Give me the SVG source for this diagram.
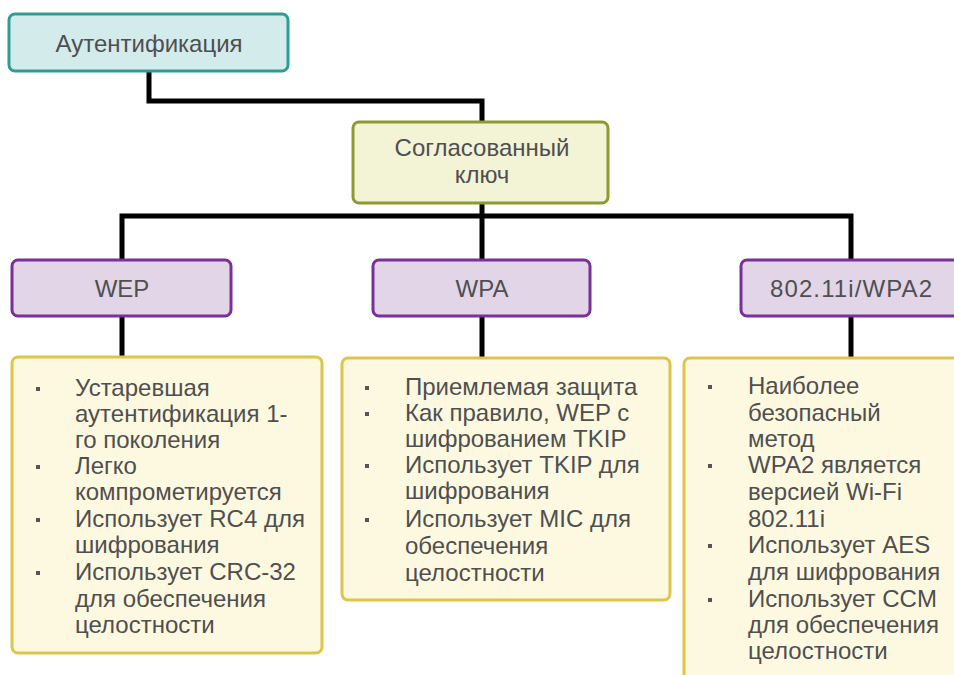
<svg xmlns="http://www.w3.org/2000/svg" width="954" height="675" viewBox="0 0 954 675">
<style>
text{font-family:"Liberation Sans",Arial,sans-serif;fill:#4f4f4f;font-size:24px}
.c{text-anchor:middle}
.teal{fill:#d3ebea;stroke:#2e9d93;stroke-width:3}
.olive{fill:#f3f3d6;stroke:#8c9a2e;stroke-width:3}
.purp{fill:#e2d5e8;stroke:#7a3094;stroke-width:3}
.yel{fill:#fdf9e0;stroke:#dcc54a;stroke-width:3}
.ln{fill:none;stroke:#000;stroke-width:5}
.b{fill:#555}
</style>
<rect width="954" height="675" fill="#fff"/>
<g id="connectors">
<path class="ln" d="M149 71V101H482V122"/>
<path class="ln" d="M482 203V216"/>
<path class="ln" d="M122 260V216H851V260"/>
<path class="ln" d="M482 216V260"/>
<path class="ln" d="M122 316V358"/>
<path class="ln" d="M482 316V358"/>
<path class="ln" d="M851 316V358"/>
</g>
<g id="auth">
<rect class="teal" x="9" y="14" width="279" height="57" rx="6"/>
<text class="c" x="149" y="52">Аутентификация</text>
</g>
<g id="key">
<rect class="olive" x="353" y="122" width="255" height="81" rx="6"/>
<text class="c" x="482" y="156">Согласованный</text>
<text class="c" x="482" y="183">ключ</text>
</g>
<g id="wep">
<rect class="purp" x="12" y="260" width="219" height="56" rx="6"/>
<text class="c" x="122" y="297">WEP</text>
</g>
<g id="wpa">
<rect class="purp" x="373" y="260" width="217" height="56" rx="6"/>
<text class="c" x="482" y="297">WPA</text>
</g>
<g id="wpa2">
<rect class="purp" x="741" y="260" width="220" height="56" rx="6"/>
<text class="c" x="851" y="297" textLength="162" lengthAdjust="spacing">802.11i/WPA2</text>
</g>
<g id="wep-list">
<rect class="yel" x="12" y="357" width="310" height="296" rx="6"/>
<rect class="b" x="36" y="387" width="4" height="4"/>
<rect class="b" x="36" y="465" width="4" height="4"/>
<rect class="b" x="36" y="518" width="4" height="4"/>
<rect class="b" x="36" y="571" width="4" height="4"/>
<text x="75" y="396">Устаревшая</text>
<text x="75" y="422">аутентификация 1-</text>
<text x="75" y="448">го поколения</text>
<text x="75" y="474">Легко</text>
<text x="75" y="500">компрометируется</text>
<text x="75" y="527">Использует RC4 для</text>
<text x="75" y="553">шифрования</text>
<text x="75" y="580">Использует CRC-32</text>
<text x="75" y="607">для обеспечения</text>
<text x="75" y="633">целостности</text>
</g>
<g id="wpa-list">
<rect class="yel" x="342" y="358" width="328" height="242" rx="6"/>
<rect class="b" x="365" y="386" width="4" height="4"/>
<rect class="b" x="365" y="412" width="4" height="4"/>
<rect class="b" x="365" y="464" width="4" height="4"/>
<rect class="b" x="365" y="518" width="4" height="4"/>
<text x="405" y="395">Приемлемая защита</text>
<text x="405" y="421">Как правило, WEP с</text>
<text x="405" y="447">шифрованием TKIP</text>
<text x="405" y="473">Использует TKIP для</text>
<text x="405" y="499">шифрования</text>
<text x="405" y="527">Использует MIC для</text>
<text x="405" y="554">обеспечения</text>
<text x="405" y="581">целостности</text>
</g>
<g id="wpa2-list">
<rect class="yel" x="684" y="358" width="290" height="340" rx="6"/>
<rect class="b" x="708" y="385" width="4" height="4"/>
<rect class="b" x="708" y="464" width="4" height="4"/>
<rect class="b" x="708" y="544" width="4" height="4"/>
<rect class="b" x="708" y="598" width="4" height="4"/>
<text x="748" y="394">Наиболее</text>
<text x="748" y="421">безопасный</text>
<text x="748" y="447">метод</text>
<text x="748" y="473">WPA2 является</text>
<text x="748" y="500">версией Wi-Fi</text>
<text x="748" y="527">802.11i</text>
<text x="748" y="553">Использует AES</text>
<text x="748" y="580">для шифрования</text>
<text x="748" y="607">Использует CCM</text>
<text x="748" y="633">для обеспечения</text>
<text x="748" y="659">целостности</text>
</g>
</svg>
